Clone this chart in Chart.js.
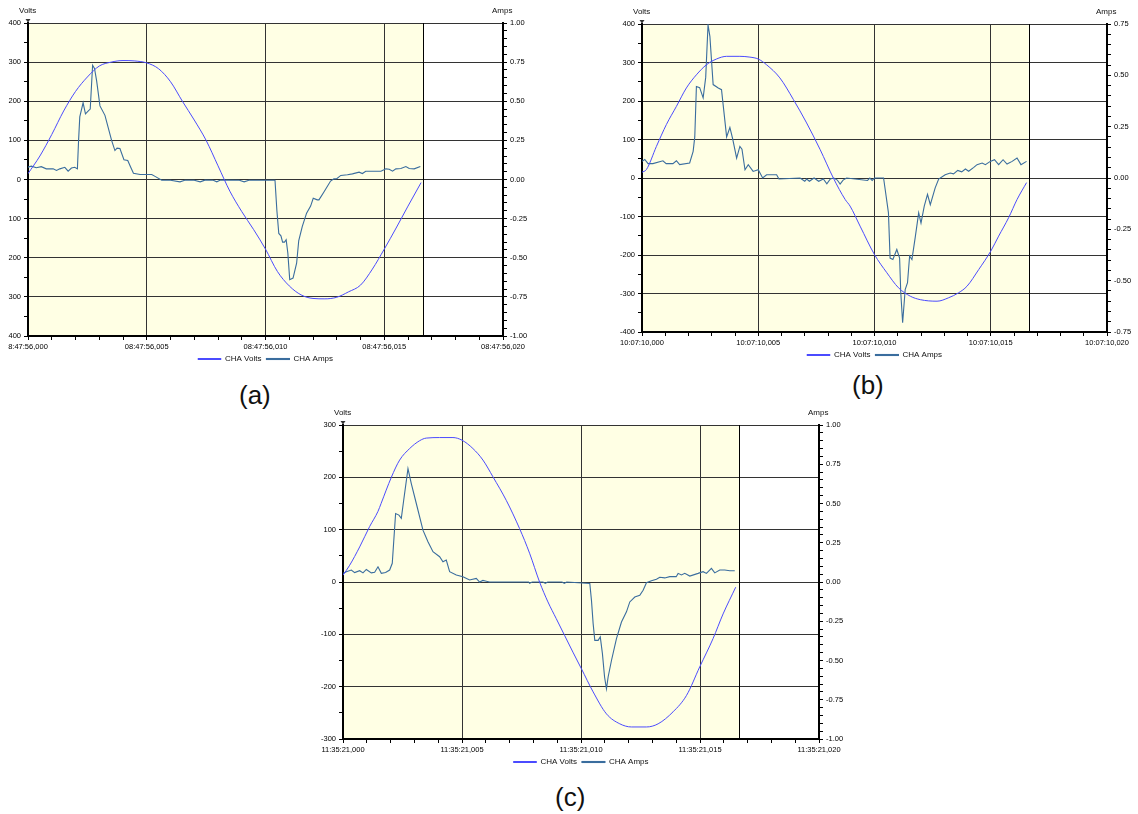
<!DOCTYPE html>
<html>
<head>
<meta charset="utf-8">
<title>CHA Volts / CHA Amps</title>
<script src="https://cdn.jsdelivr.net/npm/chart.js@4.4.1/dist/chart.umd.min.js"></script>
<style>
  html, body { margin: 0; padding: 0; background: #fff; }
  body { position: relative; width: 1138px; height: 814px; overflow: hidden; font-family: "Liberation Sans", Arial, sans-serif; }
  canvas { position: absolute; }
  .caption { position: absolute; font-size: 26px; line-height: 1; color: #111; }
</style>
</head>
<body>
<canvas id="chart-a" width="555" height="374" style="left:-12px; top:-1px"></canvas>
<canvas id="chart-b" width="545" height="369" style="left:602px; top:0px"></canvas>
<canvas id="chart-c" width="556" height="375" style="left:303px; top:401px"></canvas>
<div class="caption" style="left:239px; top:382px">(a)</div>
<div class="caption" style="left:852px; top:372px">(b)</div>
<div class="caption" style="left:555px; top:784px">(c)</div>

<script>
// --- recording (a): 08:47:56 ---
// time in ms from the start of the window
const voltTimesA = [0, 0.5, 1, 1.5, 2, 2.5, 3, 3.5, 4, 4.5, 5, 5.5, 6, 6.5, 7, 7.5, 8, 8.5, 9, 9.5,
  10, 10.5, 11, 11.5, 12, 12.5, 13, 13.5, 14, 14.5, 15, 15.5, 16, 16.55];
const voltsA = [15, 60, 115, 175, 225, 262, 290, 300, 304, 303, 298, 283, 250, 200, 152, 100, 35, -30, -82, -128,
  -178, -235, -272, -295, -304, -305, -301, -287, -270, -229, -178, -124, -68, -8];
const ampTimesA = [0, 0.14, 0.35, 0.56, 0.77, 1.06, 1.2, 1.34, 1.55, 1.69, 1.83, 1.97, 2.08, 2.13, 2.18, 2.32, 2.42,
  2.55, 2.62, 2.72, 2.8, 2.89, 3.03, 3.24, 3.52, 3.66, 3.75, 3.87, 4.04, 4.2, 4.32, 4.44, 4.72, 5.21, 5.35, 5.63,
  6.0, 6.4, 6.6, 7.0, 7.25, 7.45, 7.8, 7.95, 8.1, 8.9, 9.1, 9.3, 10.4, 10.48, 10.56, 10.65, 10.72, 10.8, 10.87,
  10.94, 11.02, 11.16, 11.31, 11.4, 11.55, 11.73, 11.9, 12.01, 12.18, 12.25, 12.46, 12.74, 12.88, 13.0, 13.17,
  13.45, 13.66, 13.94, 14.08, 14.22, 14.86, 15.07, 15.21, 15.35, 15.49, 15.7, 15.91, 16.05, 16.26, 16.52];
const ampsA = [0.079, 0.085, 0.075, 0.082, 0.068, 0.068, 0.058, 0.068, 0.078, 0.053, 0.073, 0.078, 0.068, 0.25, 0.40,
  0.49, 0.42, 0.44, 0.45, 0.73, 0.71, 0.63, 0.47, 0.41, 0.25, 0.185, 0.2, 0.198, 0.126, 0.122, 0.08, 0.04, 0.032,
  0.032, 0.02, -0.005, -0.005, -0.015, -0.005, -0.005, -0.015, -0.004, -0.005, -0.015, -0.004, -0.005, -0.015,
  -0.005, -0.005, -0.2, -0.345, -0.36, -0.40, -0.40, -0.385, -0.47, -0.64, -0.63, -0.535, -0.39, -0.3, -0.215,
  -0.17, -0.12, -0.13, -0.13, -0.08, -0.01, 0.004, 0.005, 0.026, 0.03, 0.036, 0.047, 0.038, 0.053, 0.053, 0.068,
  0.066, 0.053, 0.068, 0.07, 0.083, 0.07, 0.068, 0.083];
const timeLabelsA = ['8:47:56,000', '08:47:56,005', '08:47:56,010', '08:47:56,015', '08:47:56,020'];
const voltLabelsA = ['400', '300', '200', '100', '0', '100', '200', '300', '400'];
const ampLabelsA = ['1.00', '0.75', '0.50', '0.25', '0.00', '-0.25', '-0.50', '-0.75', '-1.00'];

// --- recording (b): 10:07:10 ---
const voltTimesB = [0, 0.19, 0.62, 1.05, 1.48, 1.91, 2.34, 2.77, 3.2, 3.64, 4.21, 4.64, 5.0, 5.36, 5.93, 6.51, 7.08,
  7.66, 8.23, 8.74, 8.95, 9.38, 10.0, 10.53, 11.03, 11.54, 11.97, 12.69, 13.19, 13.62, 13.98, 14.48, 15.0, 15.34,
  15.77, 16.13, 16.54];
const voltsB = [15, 22, 82, 139, 186, 234, 268, 294, 309, 316, 316, 314, 309, 294, 260, 204, 143,
  74, 0, -56, -73, -125, -199, -246, -285, -307, -316, -320, -311, -298, -281, -238, -190, -151,
  -103, -56, -12];
const ampTimesB = [0, 0.12, 0.26, 0.47, 0.9, 1.04, 1.33, 1.48, 1.62, 2.05, 2.2, 2.27, 2.34, 2.48, 2.63, 2.74, 2.84,
  2.92, 3.06, 3.28, 3.42, 3.64, 3.78, 3.9, 4.07, 4.21, 4.3, 4.43, 4.57, 4.78, 5.0, 5.19, 5.36, 5.79, 5.89, 6.8,
  7.0, 7.08, 7.2, 7.4, 7.6, 7.8, 7.95, 8.1, 8.25, 8.4, 8.52, 8.65, 8.8, 9.7, 9.8, 9.9, 10.0, 10.39, 10.46, 10.6,
  10.67, 10.79, 10.96, 11.08, 11.13, 11.21, 11.32, 11.42, 11.51, 11.61, 11.75, 11.9, 12.0, 12.14, 12.28, 12.4,
  12.61, 12.76, 13.04, 13.26, 13.4, 13.58, 13.75, 13.91, 14.05, 14.27, 14.41, 14.63, 14.77, 14.98, 15.16, 15.34,
  15.53, 15.7, 15.92, 16.13, 16.3, 16.54];
const ampsB = [0.081, 0.09, 0.07, 0.07, 0.084, 0.07, 0.07, 0.084, 0.065, 0.073, 0.13, 0.2, 0.446, 0.44, 0.39, 0.49,
  0.746, 0.69, 0.455, 0.438, 0.43, 0.2, 0.246, 0.19, 0.097, 0.154, 0.14, 0.04, 0.065, 0.032, 0.04, 0, 0.016, 0.016,
  -0.005, 0, -0.016, -0.005, -0.016, 0, -0.016, -0.005, -0.028, -0.005, 0, -0.01, -0.03, -0.01, 0, -0.012, 0,
  -0.012, 0, 0, -0.056, -0.17, -0.39, -0.397, -0.348, -0.39, -0.559, -0.705, -0.543, -0.51, -0.38, -0.397, -0.29,
  -0.17, -0.22, -0.137, -0.08, -0.13, -0.048, -0.005, 0.016, 0.024, 0.02, 0.037, 0.03, 0.044, 0.033, 0.052, 0.065,
  0.073, 0.065, 0.081, 0.089, 0.065, 0.089, 0.068, 0.081, 0.097, 0.065, 0.081];
const timeLabelsB = ['10:07:10,000', '10:07:10,005', '10:07:10,010', '10:07:10,015', '10:07:10,020'];
const voltLabelsB = ['400', '300', '200', '100', '0', '-100', '-200', '-300', '-400'];
const ampLabelsB = ['0.75', '0.50', '0.25', '0.00', '-0.25', '-0.50', '-0.75'];

// --- recording (c): 11:35:21 ---
const voltTimesC = [0, 0.28, 0.7, 1.12, 1.47, 1.6, 2.03, 2.38, 2.8, 3.22, 3.5, 4.06, 4.62, 5.0, 5.46, 5.88, 6.3,
  6.86, 7.42, 7.84, 8.26, 8.61, 8.96, 9.31, 9.66, 10.02, 10.51, 11.07, 11.63, 12.12, 12.75, 13.24, 13.87, 14.43,
  14.99, 15.55, 15.97, 16.5];
const voltsC = [13, 32, 67, 106, 135, 150, 200, 233, 255, 270, 275, 276, 276, 271, 255, 233, 201,
  156, 102, 55, 0, -38, -70, -102, -134, -166, -210, -252, -271, -277, -277, -271, -248, -217,
  -162, -108, -61, -10];
const ampTimesC = [0, 0.14, 0.35, 0.49, 0.7, 0.84, 0.98, 1.19, 1.33, 1.47, 1.61, 1.79, 1.96, 2.07, 2.21, 2.35, 2.45,
  2.55, 2.73, 2.87, 3.08, 3.36, 3.57, 3.78, 4.06, 4.2, 4.34, 4.48, 4.76, 5.04, 5.32, 5.6, 5.74, 5.88, 6.02, 6.16,
  7.8, 7.84, 7.95, 8.4, 8.5, 8.6, 9.2, 9.3, 9.4, 10.37, 10.44, 10.51, 10.58, 10.72, 10.81, 10.9, 10.99, 11.07,
  11.14, 11.28, 11.49, 11.7, 11.91, 12.05, 12.26, 12.47, 12.61, 12.75, 12.96, 13.17, 13.31, 13.52, 13.73, 14.0,
  14.08, 14.22, 14.36, 14.57, 14.92, 15.13, 15.27, 15.48, 15.62, 15.83, 16.04, 16.25, 16.46];
const ampsC = [0.055, 0.066, 0.076, 0.06, 0.072, 0.058, 0.08, 0.058, 0.062, 0.097, 0.055, 0.06, 0.076, 0.119, 0.436,
  0.426, 0.405, 0.521, 0.722, 0.627, 0.5, 0.33, 0.256, 0.193, 0.161, 0.129, 0.14, 0.066, 0.044, 0.034, 0.013, 0.023,
  0, 0.01, 0.005, 0, 0, -0.008, 0, 0, -0.008, 0, 0, -0.008, 0, -0.01, -0.117, -0.265, -0.372, -0.372, -0.35,
  -0.456, -0.605, -0.68, -0.605, -0.5, -0.361, -0.255, -0.19, -0.127, -0.096, -0.085, -0.053, -0.005, 0.008,
  0.017, 0.03, 0.026, 0.034, 0.034, 0.055, 0.045, 0.055, 0.038, 0.055, 0.066, 0.055, 0.087, 0.058, 0.076, 0.076,
  0.072, 0.072];
const timeLabelsC = ['11:35:21,000', '11:35:21,005', '11:35:21,010', '11:35:21,015', '11:35:21,020'];
const voltLabelsC = ['300', '200', '100', '0', '-100', '-200', '-300'];
const ampLabelsC = ['1.00', '0.75', '0.50', '0.25', '0.00', '-0.25', '-0.50', '-0.75', '-1.00'];

// end of the captured cycle (ms), the shaded part of each plot
const recordEnd = 16.63;

// --- shared look ---
const VOLTS_COLOR = '#4b4bff';
const AMPS_COLOR = '#3a6d9e';
const GRID_COLOR = '#333';
const PLOT_BG = '#ffffe4';
const NONE = 'rgba(0,0,0,0)';
const LABEL_COLOR = '#000';
const FONT_FAMILY = '"Liberation Sans", Arial, sans-serif';
const TICK_FONT = { family: FONT_FAMILY, size: 7.5 };

const toPoints = (times, values) => times.map((t, i) => ({ x: t, y: values[i] }));

// shaded record window, its end marker, unit captions
const recorderFrame = {
  id: 'recorderFrame',
  beforeDraw(chart, args, opts) {
    const { ctx, chartArea: a, scales } = chart;
    const xEnd = scales.x.getPixelForValue(opts.recordEnd);
    ctx.save();
    ctx.fillStyle = PLOT_BG;
    ctx.fillRect(a.left, a.top, xEnd - a.left, a.bottom - a.top);
    ctx.restore();
  },
  beforeDatasetsDraw(chart, args, opts) {
    const { ctx, chartArea: a, scales } = chart;
    const xEnd = Math.round(scales.x.getPixelForValue(opts.recordEnd)) + 0.5;
    ctx.save();
    ctx.strokeStyle = '#000';
    ctx.lineWidth = 1;
    ctx.beginPath();
    ctx.moveTo(xEnd, a.top);
    ctx.lineTo(xEnd, a.bottom);
    ctx.stroke();
    ctx.restore();
  },
  afterDraw(chart) {
    const { ctx, chartArea: a } = chart;
    ctx.save();
    ctx.font = '8px ' + FONT_FAMILY;
    ctx.fillStyle = '#111';
    ctx.textBaseline = 'middle';
    ctx.textAlign = 'left';
    ctx.fillText('Volts', a.left - 9, a.top - 12);
    ctx.fillText('Amps', a.right - 11, a.top - 12);
    // little marker on top of the volts axis
    ctx.fillStyle = '#333';
    ctx.beginPath();
    ctx.moveTo(a.left - 2.5, a.top - 4);
    ctx.lineTo(a.left + 2.5, a.top - 4);
    ctx.lineTo(a.left, a.top - 0.5);
    ctx.closePath();
    ctx.fill();
    ctx.restore();
  }
};

function buildChart(canvasId, set) {
  const ctx = document.getElementById(canvasId).getContext('2d');
  return new Chart(ctx, {
    type: 'line',
    data: {
      datasets: [
        {
          label: 'CHA Volts',
          data: toPoints(set.voltTimes, set.volts),
          yAxisID: 'yV',
          borderColor: VOLTS_COLOR,
          backgroundColor: VOLTS_COLOR,
          borderWidth: 1,
          pointRadius: 0,
          cubicInterpolationMode: 'monotone'
        },
        {
          label: 'CHA Amps',
          data: toPoints(set.ampTimes, set.amps),
          yAxisID: 'yA',
          borderColor: AMPS_COLOR,
          backgroundColor: AMPS_COLOR,
          borderWidth: 1.1,
          pointRadius: 0,
          tension: 0
        }
      ]
    },
    options: {
      responsive: false,
      animation: false,
      events: [],
      layout: { padding: { left: 5, right: 5, top: 24, bottom: 0 } },
      plugins: {
        tooltip: { enabled: false },
        legend: {
          position: 'bottom',
          labels: { boxWidth: 23, boxHeight: 1, padding: 5, color: '#111', font: { family: FONT_FAMILY, size: 8 } }
        },
        recorderFrame: { recordEnd: set.recordEnd }
      },
      scales: {
        x: {
          type: 'linear',
          min: 0,
          max: 20,
          border: { color: '#000', width: 2 },
          grid: {
            color: c => (c.tick && c.tick.value % 5 === 0) ? GRID_COLOR : NONE,
            tickColor: '#000',
            tickLength: 4
          },
          ticks: {
            stepSize: 1,
            autoSkip: false,
            maxRotation: 0,
            padding: 2,
            color: LABEL_COLOR,
            font: TICK_FONT,
            callback: v => v % 5 === 0 ? set.timeLabels[v / 5] : ''
          },
          afterFit: s => { s.height = 14; }
        },
        yV: {
          position: 'left',
          min: set.voltMin,
          max: set.voltMax,
          border: { color: '#000', width: 2 },
          grid: {
            color: c => (c.tick && c.tick.value % 100 === 0) ? GRID_COLOR : NONE,
            tickColor: '#000',
            tickLength: 4
          },
          ticks: {
            stepSize: 50,
            autoSkip: false,
            padding: 3,
            color: LABEL_COLOR,
            font: TICK_FONT,
            callback: v => v % 100 === 0 ? set.voltLabels[(set.voltMax - v) / 100] : ''
          },
          afterFit: s => { s.width = 35; }
        },
        yA: {
          position: 'right',
          min: set.ampMin,
          max: set.ampMax,
          border: { color: '#000', width: 2 },
          grid: { drawOnChartArea: false, color: '#000', tickColor: '#000', tickLength: 4 },
          ticks: {
            stepSize: 0.05,
            autoSkip: false,
            padding: 3,
            color: LABEL_COLOR,
            font: TICK_FONT,
            callback: v => {
              const k = Math.round(v * 100);
              return k % 25 === 0 ? set.ampLabels[Math.round((set.ampMax * 100 - k) / 25)] : '';
            }
          },
          afterFit: s => { s.width = 35; }
        }
      }
    },
    plugins: [recorderFrame]
  });
}

buildChart('chart-a', {
  voltTimes: voltTimesA, volts: voltsA, ampTimes: ampTimesA, amps: ampsA,
  timeLabels: timeLabelsA, voltLabels: voltLabelsA, ampLabels: ampLabelsA,
  voltMin: -400, voltMax: 400, ampMin: -1, ampMax: 1, recordEnd
});
buildChart('chart-b', {
  voltTimes: voltTimesB, volts: voltsB, ampTimes: ampTimesB, amps: ampsB,
  timeLabels: timeLabelsB, voltLabels: voltLabelsB, ampLabels: ampLabelsB,
  voltMin: -400, voltMax: 400, ampMin: -0.75, ampMax: 0.75, recordEnd
});
buildChart('chart-c', {
  voltTimes: voltTimesC, volts: voltsC, ampTimes: ampTimesC, amps: ampsC,
  timeLabels: timeLabelsC, voltLabels: voltLabelsC, ampLabels: ampLabelsC,
  voltMin: -300, voltMax: 300, ampMin: -1, ampMax: 1, recordEnd
});
</script>
</body>
</html>
